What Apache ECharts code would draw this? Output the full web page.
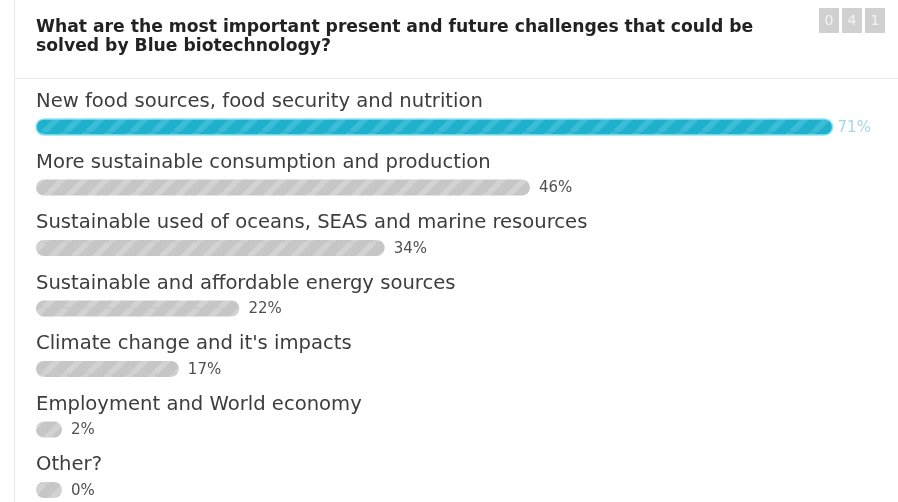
<!DOCTYPE html>
<html><head><meta charset="utf-8">
<script src="https://cdn.jsdelivr.net/npm/echarts@6/dist/echarts.min.js"></script>
<style>html,body{margin:0;padding:0;background:#fff}#c{width:898px;height:502px}</style>
</head><body><div id="c"></div>
<script>
const titleLines = ['What are the most important present and future challenges that could be', 'solved by Blue biotechnology?'];
const categories = [
  'New food sources, food security and nutrition',
  'More sustainable consumption and production',
  'Sustainable used of oceans, SEAS and marine resources',
  'Sustainable and affordable energy sources',
  "Climate change and it's impacts",
  'Employment and World economy',
  'Other?'
];
const percentages = [71, 46, 34, 22, 17, 2, 0];
const counterDigits = ['0', '4', '1'];

function stripePattern(base, stripe) {
  const s = 22;
  const c = document.createElement('canvas');
  c.width = s; c.height = s;
  const g = c.getContext('2d');
  g.fillStyle = base; g.fillRect(0, 0, s, s);
  g.strokeStyle = stripe; g.lineWidth = 6;
  g.beginPath();
  for (let k = -s; k <= 2 * s; k += s) { g.moveTo(k, s); g.lineTo(k + s, 0); }
  g.stroke();
  return { image: c, repeat: 'repeat' };
}
const leadFill = stripePattern('#1fb0cc', 'rgba(95,206,228,0.45)');
const grayFill = stripePattern('#c6c6c6', 'rgba(222,222,222,0.5)');

const X_MIN = 5.2, X_MAX = 75, BAR_H = 16, MIN_LEN = 26;
const FONT = '"DejaVu Sans", sans-serif';

const chart = echarts.init(document.getElementById('c'), null, { renderer: 'canvas' });
const counterGraphics = [];
counterDigits.forEach((d, i) => {
  counterGraphics.push({ type: 'rect', shape: { x: 819 + i * 23, y: 8, width: 20, height: 25 }, style: { fill: '#d0d0d0' }, z: 10 });
  counterGraphics.push({ type: 'text', style: { x: 829 + i * 23, y: 21, text: d, fill: '#f4f4f4', font: '14px ' + FONT, align: 'center', verticalAlign: 'middle' }, z: 11 });
});

chart.setOption({
  animation: false,
  backgroundColor: '#ffffff',
  title: {
    text: titleLines.join('\n'),
    left: 31, top: 13,
    textStyle: { fontFamily: FONT, fontWeight: 'bold', fontSize: 17.2, lineHeight: 19, color: '#222' }
  },
  graphic: [
    { type: 'line', shape: { x1: 14.5, y1: 0, x2: 14.5, y2: 502 }, style: { stroke: '#e9e9e9', lineWidth: 1 } },
    { type: 'line', shape: { x1: 15, y1: 78.5, x2: 898, y2: 78.5 }, style: { stroke: '#ececec', lineWidth: 1 } },
    ...counterGraphics
  ],
  grid: { left: 36, right: 17, top: 127, bottom: 12, containLabel: false },
  xAxis: { type: 'value', min: X_MIN, max: X_MAX, show: false },
  yAxis: {
    type: 'category', data: categories, inverse: true, boundaryGap: false,
    axisLine: { show: false }, axisTick: { show: false }, splitLine: { show: false },
    axisLabel: {
      inside: true, margin: 0, align: 'left', verticalAlign: 'bottom', padding: [0, 0, 15, 0],
      interval: 0, hideOverlap: false,
      fontFamily: FONT, fontSize: 19.6, color: '#3d3d3d'
    }
  },
  series: [{
    type: 'custom',
    data: percentages.map((v, i) => [v, i]),
    clip: false,
    renderItem: function (params, api) {
      const idx = api.value(1);
      const start = api.coord([X_MIN, idx]);
      const end = api.coord([api.value(0), idx]);
      const w = Math.max(end[0] - start[0], MIN_LEN);
      const lead = idx === 0;
      return {
        type: 'group',
        children: [
          { type: 'rect', shape: { x: start[0], y: start[1] - BAR_H / 2, width: w, height: BAR_H, r: BAR_H / 2 },
            style: { fill: lead ? leadFill : grayFill, stroke: lead ? '#8fe4f2' : null, lineWidth: lead ? 1.5 : 0 } },
          { type: 'text', style: { text: api.value(0) + '%', x: start[0] + w + (lead ? 5 : 9), y: start[1] + 1, verticalAlign: 'middle', align: 'left',
            fill: lead ? '#a3d9e4' : '#505050', font: '15px ' + FONT } }
        ]
      };
    }
  }]
});
</script>
</body></html>
